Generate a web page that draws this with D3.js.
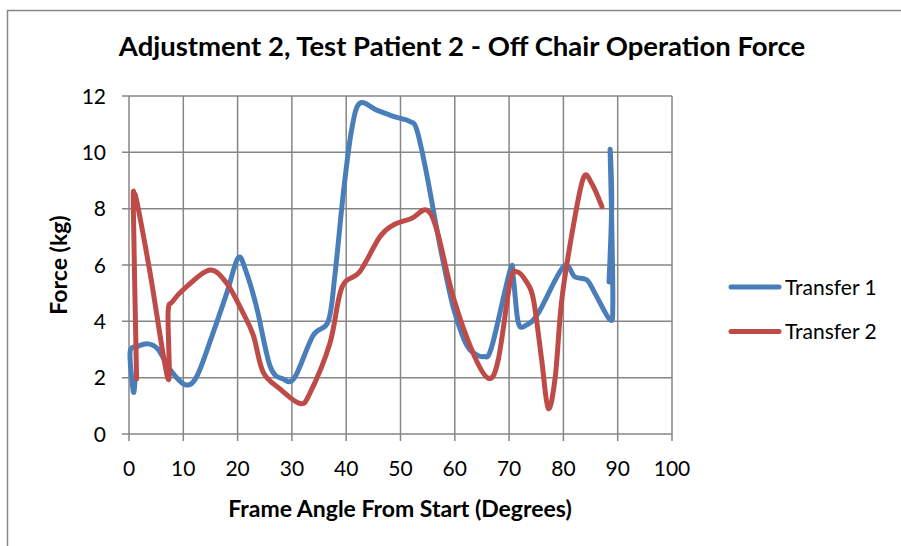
<!DOCTYPE html>
<html>
<head>
<meta charset="utf-8">
<script src="https://cdn.jsdelivr.net/npm/d3@7"></script>
<style>
  body { margin: 0; background: #fff; }
  text { font-family: Lato, "Open Sans", sans-serif; fill: #000; }
</style>
</head>
<body>
<svg id="graph"></svg>
<script>
// data
var t1X = [1.1, 0.8, 0.2, 1.5, 3.5, 5.4, 7.5, 10.3, 12.5, 15.5, 18, 20.1, 21.5, 23.5, 26, 28.4, 30.5, 33.9, 36.7, 37.9, 39.5, 41, 42.5, 45.6, 49, 51.7, 53, 54.8, 57.3, 59.7, 61.6, 63, 65.3, 66.8, 70.2, 70.8, 71.7, 73.2, 75.4, 80, 82.1, 84.3, 85.8, 88.6, 89.1, 88.9, 88.6, 88.9, 88.4];
var t1Y = [1.9, 1.5, 2.9, 3.1, 3.2, 3.0, 2.3, 1.75, 2.05, 3.6, 5.0, 6.25, 5.8, 4.5, 2.4, 1.95, 2.0, 3.5, 4.0, 5.6, 8.6, 10.8, 11.74, 11.5, 11.26, 11.1, 10.8, 9.25, 6.65, 4.5, 3.4, 2.95, 2.75, 3.1, 5.82, 5.5, 3.95, 3.87, 4.3, 5.94, 5.58, 5.47, 5.0, 4.05, 4.6, 7.5, 10.1, 8.2, 5.4];

var t2X = [1.4, 0.8, 1.0, 1.5, 3.9, 7.2, 7.2, 8.0, 10.6, 14.9, 18, 21, 22.9, 24.7, 27.8, 31.5, 33.3, 37, 39.2, 42.5, 46.2, 48.7, 52.1, 54.8, 56.7, 59.7, 63.4, 66.2, 68, 70.2, 71.4, 73.2, 74.5, 76, 77.2, 78.5, 79.7, 81.8, 83.7, 85.2, 87.1];
var t2Y = [1.95, 8.0, 8.45, 8.2, 5.7, 1.95, 4.3, 4.7, 5.23, 5.82, 5.35, 4.3, 3.5, 2.2, 1.6, 1.08, 1.44, 3.22, 5.2, 5.76, 7.0, 7.42, 7.66, 7.95, 7.24, 4.87, 2.86, 1.98, 2.63, 5.4, 5.76, 5.4, 4.76, 2.63, 0.91, 2.03, 4.76, 7.36, 9.1, 8.9, 8.07];

var seriesNames = ["Transfer 1", "Transfer 2"];
var seriesColors = ["#4a7ebb", "#be4b48"];
var xTicks = [0, 10, 20, 30, 40, 50, 60, 70, 80, 90, 100];
var yTicks = [0, 2, 4, 6, 8, 10, 12];

var w = 901, h = 546;
var svg = d3.select("#graph").attr("width", w).attr("height", h);

// outer chart frame
svg.append("rect")
    .attr("x", 7.5).attr("y", 10.5)
    .attr("width", 1000).attr("height", 1000)
    .attr("fill", "none").attr("stroke", "#868686").attr("stroke-width", 1.5);

var x = d3.scaleLinear().domain([0, 100]).range([129, 672]);
var y = d3.scaleLinear().domain([0, 12]).range([434, 96]);

var grid = "#868686";

// grid lines
svg.append("g").selectAll("line").data(xTicks).enter().append("line")
    .attr("x1", d => x(d)).attr("x2", d => x(d))
    .attr("y1", y(12)).attr("y2", y(0) + 7)
    .attr("stroke", grid).attr("stroke-width", 1.5);
svg.append("g").selectAll("line").data(yTicks).enter().append("line")
    .attr("x1", x(0) - 7).attr("x2", x(100))
    .attr("y1", d => y(d)).attr("y2", d => y(d))
    .attr("stroke", grid).attr("stroke-width", 1.5);

// tick labels
svg.append("g").selectAll("text").data(yTicks).enter().append("text")
    .attr("x", x(0) - 23).attr("y", d => y(d) + 7.5)
    .attr("text-anchor", "end").attr("font-size", 21)
    .text(d => d);
svg.append("g").selectAll("text").data(xTicks).enter().append("text")
    .attr("x", d => x(d)).attr("y", 476)
    .attr("text-anchor", "middle").attr("font-size", 21)
    .text(d => d);

// titles
svg.append("text")
    .attr("x", 462).attr("y", 56)
    .attr("text-anchor", "middle").attr("font-size", 27.5).attr("font-weight", "bold")
    .text("Adjustment 2, Test Patient 2 - Off Chair Operation Force");
svg.append("text")
    .attr("x", 400).attr("y", 517)
    .attr("text-anchor", "middle").attr("font-size", 23).attr("font-weight", "bold")
    .text("Frame Angle From Start (Degrees)");
svg.append("text")
    .attr("transform", "translate(67,265) rotate(-90)")
    .attr("text-anchor", "middle").attr("font-size", 23).attr("font-weight", "bold")
    .text("Force (kg)");

// curves
var line = d3.line()
    .x(d => x(d[0]))
    .y(d => y(d[1]))
    .curve(d3.curveCatmullRom.alpha(0));

var series = [d3.zip(t1X, t1Y), d3.zip(t2X, t2Y)];
series.forEach(function(pts, i){
    svg.append("path")
        .attr("d", line(pts))
        .attr("fill", "none")
        .attr("stroke", seriesColors[i])
        .attr("stroke-width", 5)
        .attr("stroke-linejoin", "round")
        .attr("stroke-linecap", "round");
});

// legend
seriesNames.forEach(function(name, i){
    var ly = 287 + i * 44.5;
    svg.append("line")
        .attr("x1", 731).attr("x2", 779)
        .attr("y1", ly).attr("y2", ly)
        .attr("stroke", seriesColors[i]).attr("stroke-width", 5)
        .attr("stroke-linecap", "round");
    svg.append("text")
        .attr("x", 785).attr("y", ly + 7.5)
        .attr("font-size", 21)
        .text(name);
});
</script>
</body>
</html>
